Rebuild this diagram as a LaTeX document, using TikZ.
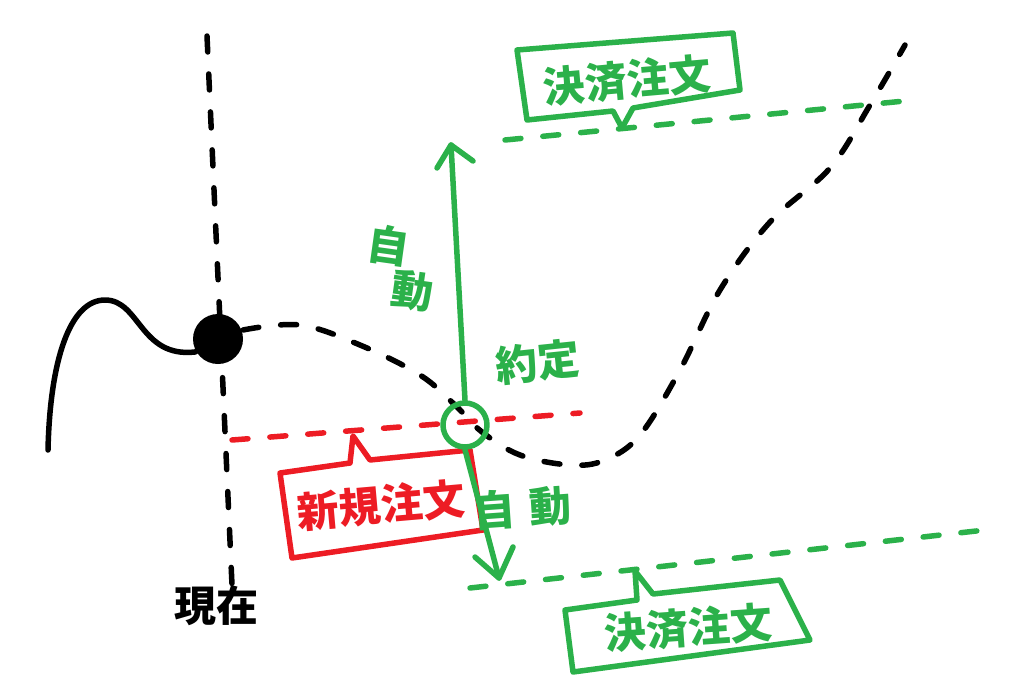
\documentclass[tikz,border=0pt]{standalone}
\usepackage{fontspec}
\newfontfamily\jp{Noto Sans CJK JP}
\definecolor{hgreen}{RGB}{43,177,74}
\definecolor{hred}{RGB}{237,28,36}
\begin{document}
\begin{tikzpicture}[x=1pt,y=-1pt,line cap=round,line join=round,
  pen/.style={line width=5.5pt},
  dsh/.style={pen,dash pattern=on 16pt off 22pt},
  lbl/.style={font=\jp\bfseries\fontsize{42}{46}\selectfont,inner sep=0pt,align=center}]
\useasboundingbox (0,0) rectangle (1024,688);
% black axis
\coordinate (axtop) at (207,36);
\coordinate (axbot) at (232,585);
\draw[dsh] (axtop) -- (axbot);
\node[lbl] (now) at (216,606) {現在};
% price dot
\node[circle,fill,minimum width=46pt,minimum height=50pt,inner sep=0pt] (dot) at (218,339) {};
\coordinate (cstart) at (48,450);
\draw[pen] (cstart) .. controls (50,360) and (70,300) .. (105,300)
  .. controls (140,300) and (140,358) .. (195,352) -- (dot);
\coordinate (cend) at (905,45);
\draw[dsh] plot[smooth,tension=0.6] coordinates {(243,330) (300,325) (360,345) (420,375) (455,405) (482,432) (520,455) (570,465) (605,460) (640,435) (680,370) (720,290) (770,222) (830,168) (870,105) (cend)};
% red order line and box
\coordinate (r1) at (232,440);
\coordinate (r2) at (580,413);
\draw[dsh,hred] (r1) -- (r2);
\draw[pen,hred] (280,473) -- (350,463) -- (353,436) -- (370,460) -- (470,450) -- (483,530) -- (292,558) -- cycle;
\node[lbl,hred,rotate=5] (newo) at (381,505) {新規注文};
% execution circle
\node[circle,draw=hgreen,pen,minimum size=44pt,inner sep=0pt] (exec) at (465,425) {};
\node[lbl,hgreen,rotate=6] (yak) at (538,362) {約定};
% up arrow
\coordinate (uptip) at (451,145);
\draw[pen,hgreen] (exec.north) -- (uptip);
\draw[pen,hgreen] (437,168) -- (uptip) -- (473,161);
\node[lbl,hgreen,rotate=-8] (autoA) at (389,246) {自};
\node[lbl,hgreen,rotate=-8] (autoB) at (412,291) {動};
% down arrow
\coordinate (dntip) at (499,578);
\draw[pen,hgreen] (exec.south) -- (dntip);
\draw[pen,hgreen] (475,557) -- (dntip) -- (513,547);
\node[lbl,hgreen,rotate=4] (auto2) at (522,508) {自\,\,動};
% top settlement
\coordinate (t1) at (505,140);
\coordinate (t2) at (915,100);
\draw[dsh,hgreen] (t1) -- (t2);
\draw[pen,hgreen] (517,50) -- (733,33) -- (740,90) -- (633,108) -- (622,128) -- (613,111) -- (527,120) -- cycle;
\node[lbl,hgreen,rotate=5] (set1) at (627,80) {決済注文};
% bottom settlement
\coordinate (b1) at (470,588);
\coordinate (b2) at (985,530);
\draw[dsh,hgreen] (b1) -- (b2);
\draw[pen,hgreen] (565,610) -- (637,600) -- (635,571) -- (653,594) -- (780,580) -- (810,640) -- (573,672) -- cycle;
\node[lbl,hgreen,rotate=4] (set2) at (688,628) {決済注文};
\end{tikzpicture}
\end{document}
